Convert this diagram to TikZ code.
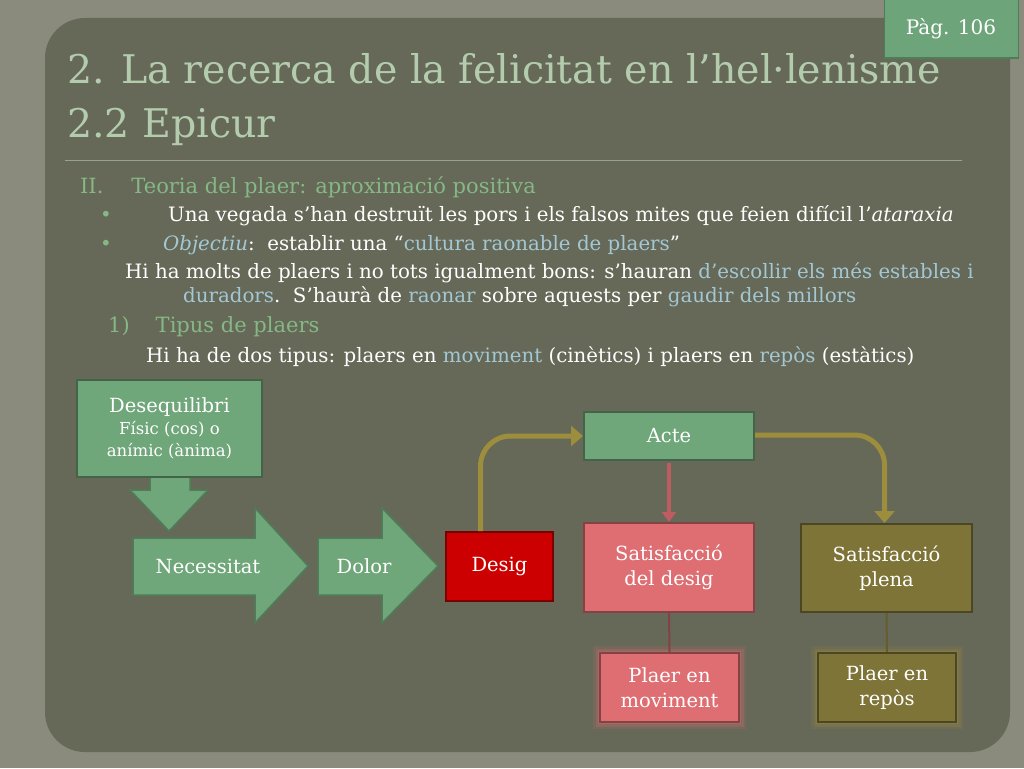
\documentclass[tikz,border=0pt]{standalone}
\usepackage{fontspec}
\setmainfont{DejaVu Serif}
\usetikzlibrary{arrows.meta}
\definecolor{bgout}{HTML}{8A8B7C}
\definecolor{panel}{HTML}{666858}
\definecolor{ttl}{HTML}{B4CCAE}
\definecolor{head}{HTML}{86B886}
\definecolor{hl}{HTML}{A3C8D4}
\definecolor{gbox}{HTML}{6FA67A}
\definecolor{gedge}{HTML}{4E7E58}
\definecolor{rbox}{HTML}{CC0000}
\definecolor{pbox}{HTML}{DE6E72}
\definecolor{obox}{HTML}{7F7438}
\definecolor{oarr}{HTML}{9C8E3C}
\definecolor{pagebox}{HTML}{6DA47A}
\begin{document}
\begin{tikzpicture}[x=1pt,y=-1pt,
  box/.style={draw=#1!60!black,line width=2pt,text=white,font=\fontsize{19.5}{25}\selectfont,align=center,inner sep=0pt},
  txt/.style={anchor=west,text=white,font=\fontsize{19.8}{24}\selectfont,inner sep=0pt},
  conn/.style={line width=5pt,draw=oarr,-{Triangle[length=12pt,width=20pt]}},
]
\useasboundingbox (0,0) rectangle (1024,768);
\fill[bgout] (0,0) rectangle (1024,768);
\fill[panel,rounded corners=40pt] (45,18) rectangle (1010,752);
% page tag
\node[fill=pagebox,draw=gedge,line width=1pt,minimum width=134pt,minimum height=58pt,text=white,font=\fontsize{20}{22}\selectfont] (pag) at (951,29) {Pàg. 106};
% title
\node[anchor=west,text=ttl,font=\fontsize{39.5}{54}\selectfont,align=left,inner sep=0pt] (title) at (67,100) {2. La recerca de la felicitat en l'hel·lenisme\\2.2 Epicur};
\draw[ttl!60!panel,line width=1pt] (65,160) -- (962,160);
% body
\node[txt,text=head,font=\fontsize{21}{24}\selectfont] (t1) at (80,187) {II.\hspace{28pt}Teoria del plaer: aproximació positiva};
\node[txt,text=head] (b1) at (100,216) {•};
\node[txt] (t2) at (168,216) {Una vegada s’han destruït les pors i els falsos mites que feien difícil l’\textit{ataraxia}};
\node[txt,text=head] (b2) at (100,245) {•};
\node[txt] (t3) at (163,245) {\textcolor{hl}{\textit{Objectiu}}:\ \ establir una “\textcolor{hl}{cultura raonable de plaers}”};
\node[txt] (t4) at (125,273) {Hi ha molts de plaers i no tots igualment bons: s’hauran \textcolor{hl}{d’escollir els més estables i}};
\node[txt] (t5) at (183,297) {\textcolor{hl}{duradors}.\ \ S’haurà de \textcolor{hl}{raonar} sobre aquests per \textcolor{hl}{gaudir dels millors}};
\node[txt,text=head,font=\fontsize{21}{24}\selectfont] (t6) at (108,327) {1)\hspace{26pt}Tipus de plaers};
\node[txt] (t7) at (146,357) {Hi ha de dos tipus: plaers en \textcolor{hl}{moviment} (cinètics) i plaers en \textcolor{hl}{repòs} (estàtics)};
% arrows shapes
\fill[gbox,draw=gedge,line width=1.5pt] (150,477) -- (190,477) -- (190,490) -- (208,490) -- (169,531) -- (130,490) -- (150,490) -- cycle;
\fill[gbox,draw=gedge,line width=1.5pt] (133,538) -- (255,538) -- (255,508) -- (308,566) -- (255,623) -- (255,595) -- (133,595) -- cycle;
\fill[gbox,draw=gedge,line width=1.5pt] (318,538) -- (382,538) -- (382,508) -- (438,566) -- (382,623) -- (382,595) -- (318,595) -- cycle;
\node[text=white,font=\fontsize{19.5}{22}\selectfont] (nec) at (208,566) {Necessitat};
\node[text=white,font=\fontsize{19.5}{22}\selectfont] (dol) at (364,566) {Dolor};
% glows
\foreach \w/\o in {14/0.15,9/0.2,4/0.3}{
  \draw[pbox,line width=\w pt,opacity=\o] (600,653) rectangle (739,722);
  \draw[oarr,line width=\w pt,opacity=\o] (818,653) rectangle (956,722);
}
% boxes
\node[box=gbox,fill=gbox,minimum width=185pt,minimum height=97pt] (deseq) at (169.5,428.5) {Desequilibri\\[-3pt]{\fontsize{16.5}{22}\selectfont Físic (cos) o}\\[-3pt]{\fontsize{16.5}{22}\selectfont anímic (ànima)}};
\node[box=rbox,fill=rbox,minimum width=107pt,minimum height=69pt] (desig) at (499.5,566.5) {Desig};
\node[box=gbox,fill=gbox,minimum width=170pt,minimum height=48pt] (acte) at (669,436) {Acte};
\node[box=pbox,fill=pbox,minimum width=170pt,minimum height=89pt] (sd) at (669,567.5) {Satisfacció\\del desig};
\node[box=obox,fill=obox,minimum width=171pt,minimum height=88pt] (sp) at (886.5,568) {Satisfacció\\plena};
\node[box=pbox,fill=pbox,minimum width=139pt,minimum height=69pt] (pm) at (669.5,687.5) {Plaer en\\moviment};
\node[box=obox,fill=obox,minimum width=138pt,minimum height=69pt] (pr) at (887,687.5) {Plaer en\\repòs};
% connectors
\draw[conn,rounded corners=30pt] ([xshift=-19pt]desig.north) |- (acte.west);
\draw[conn,rounded corners=30pt] ([yshift=1pt]acte.east) -| ([xshift=-2pt]sp.north);
\draw[line width=4pt,draw=pbox!85!black,-{Triangle[length=10pt,width=14pt]}] ([yshift=-2pt]acte.south) -- (sd.north);
\draw[line width=2pt,draw=pbox!60!black] (sd.south) -- (pm.north);
\draw[line width=2pt,draw=obox!80!black] (sp.south) -- (pr.north);
\end{tikzpicture}
\end{document}
